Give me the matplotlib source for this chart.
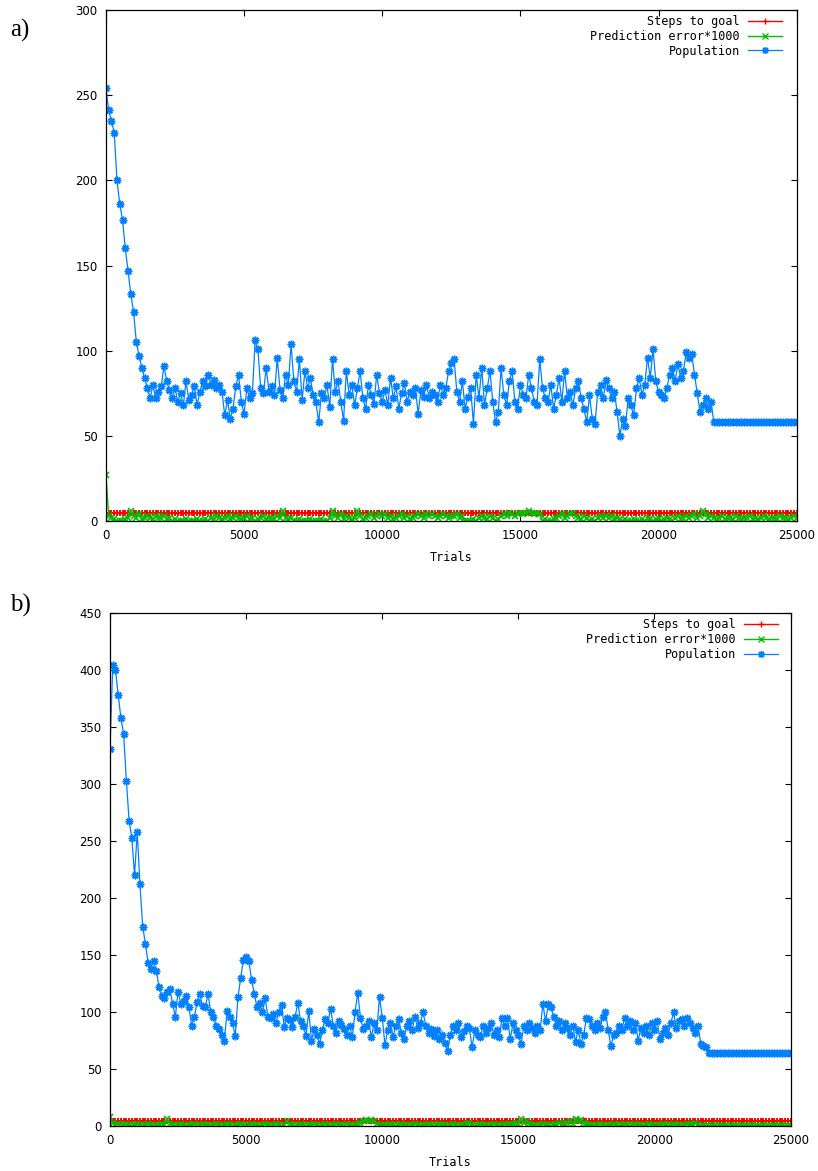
import numpy as np
import matplotlib.pyplot as plt

# ---- data (one sample every 100 trials) ----
trials = np.arange(0, 25001, 100)

# panel a) population
pop_a = [254, 241, 235, 228, 200, 186, 177, 160, 147, 133, 123, 105, 97, 90, 84, 78, 72,
         80, 72, 76, 79, 91, 82,
         77, 72, 78, 70,
         75, 68, 82, 71, 74, 79, 68, 76,
         82, 79, 86, 80, 83, 78, 80, 76,
         62, 71, 60, 66, 79, 86,
         70, 63, 78, 72, 75,
         106, 101,
         78, 75, 90, 76, 79, 74,
         96, 77, 72, 86, 80, 104,
         82, 76, 95, 71, 88, 78, 84, 74,
         70, 58, 75,
         72, 80, 67, 95, 76, 82, 70, 59, 88, 74, 80, 68,
         78, 88, 72, 66, 80, 74, 69, 86, 75, 70,
         77, 68, 84, 72, 79, 66, 75, 81, 70,
         76, 74, 78, 63, 77, 73, 80, 72, 76, 74,
         70, 80, 74, 78, 88, 93, 95,
         76, 70, 82, 66, 73, 78, 57,
         86, 72, 90, 68, 78, 88, 70, 58, 64, 90,
         74, 68, 82, 88, 70, 66, 80, 74, 72, 86, 78, 70,
         68, 95, 78, 72, 70,
         80, 66, 74, 84, 70, 88, 72, 76, 68, 78, 82,
         72, 66, 58, 74, 60, 57, 76,
         80, 72, 83, 78, 72, 76,
         64, 50, 60, 56,
         72, 68, 62, 78, 84, 74, 80,
         96, 84, 101, 82,
         76, 74, 72, 78,
         86, 90, 82, 92, 84, 88,
         99, 96, 98, 86,
         75, 64, 68, 72, 66, 70] + [58] * 31

pred_a = [27, 3, 2, 1, 0, 0, 0, 1, 2, 6,
          3, 2, 4, 1, 2, 3, 2, 1, 3, 2,
          2, 3, 1, 2, 0, 1, 0, 0, 0, 1,
          0, 0, 0, 1, 0, 0, 1, 0, 2, 1,
          3, 2, 1, 2, 3, 1, 2, 3, 2, 1,
          2, 3, 1, 2, 0, 1, 2, 3, 1, 2,
          2, 1, 3, 2, 6, 2, 1, 2, 0, 0,
          1, 0, 0, 0, 1, 0, 0, 0, 1, 0,
          0, 2, 6, 3, 2, 4, 1, 3, 2, 1,
          2, 6, 3, 1, 2, 3, 4, 2, 3, 4,
          3, 4, 2, 3, 1, 2, 3, 4, 2, 3,
          1, 2, 3, 4, 3, 2, 4, 3, 4, 3,
          2, 3, 4, 3, 2, 3, 3, 4, 2, 3,
          0, 0, 0, 1, 0, 2, 3, 2, 1, 3,
          2, 0, 1, 3, 4, 3, 5, 4, 3, 4,
          5, 4, 5, 6, 5, 4, 5, 4, 0, 1,
          0, 0, 1, 2, 3, 4, 2, 3, 4, 5,
          3, 2, 1, 3, 2, 0, 1, 0, 2, 3,
          2, 3, 2, 3, 1, 2, 1, 0, 1, 0,
          0, 1, 0, 0, 1, 0, 2, 1, 0, 1,
          2, 0, 1, 2, 1, 0, 2, 3, 1, 2,
          3, 2, 3, 4, 2, 3, 6, 4, 2, 3,
          2, 1, 2, 3, 1, 2, 2, 1, 3, 2,
          1, 2, 2, 3, 1, 2, 1, 2, 3, 2,
          1, 2, 2, 1, 3, 2, 2, 1, 2, 3,
          2]

steps_a = [4.5] * 251

# panel b) population
pop_b = [331, 404, 400, 378, 358, 344, 303, 268, 253, 220,
         258, 212, 175, 160, 143, 138, 145, 136, 122, 114,
         112, 118, 120, 107, 96, 118, 107, 110, 114, 104,
         88, 96, 109, 116, 105, 104, 116, 100, 96, 88,
         85, 80, 75, 101, 96, 90, 79, 113, 130, 146,
         148, 145, 128, 116, 104, 108, 100, 112, 96, 95,
         98, 90, 100, 106, 87, 95, 93, 87, 96, 108,
         92, 88, 79, 101, 75, 85, 80, 72, 84, 94,
         90, 103, 88, 82, 92, 89, 85, 80, 88, 78,
         100, 117, 95, 85, 88, 92, 78, 90, 84, 113,
         95, 71, 84, 90, 78, 88, 94, 82, 76, 88,
         92, 84, 96, 86, 90, 100, 88, 82, 85, 79,
         84, 76, 80, 73, 66, 80, 88, 84, 90, 78,
         83, 88, 86, 69, 84, 80, 78, 88, 82, 86,
         90, 80, 84, 78, 95, 88, 95, 76, 90, 84,
         80, 72, 88, 84, 90, 86, 82, 88, 84, 107,
         92, 107, 104, 96, 88, 92, 84, 90, 86, 80,
         88, 74, 84, 72, 80, 95, 94, 88, 84, 90,
         86, 96, 100, 84, 70, 80, 82, 88, 84, 95,
         88, 92, 84, 90, 75, 86, 82, 88, 80, 90,
         84, 92, 76, 82, 86, 80, 90, 100, 86, 92,
         94, 88, 95, 90, 86, 82, 88, 72, 70, 69] + [64] * 31

pred_b = [8, 3, 1, 2, 0, 1, 2, 1, 0, 1,
          2, 1, 0, 1, 2, 1, 0, 1, 1, 2,
          1, 6, 2, 1, 0, 1, 2, 1, 0, 1,
          1, 2, 0, 1, 2, 1, 1, 0, 1, 2,
          1, 0, 1, 2, 1, 0, 1, 1, 2, 1,
          0, 1, 2, 1, 1, 0, 1, 2, 1, 0,
          1, 2, 1, 0, 1, 4, 2, 1, 0, 1,
          2, 1, 0, 1, 1, 2, 1, 0, 1, 2,
          1, 0, 1, 2, 1, 1, 0, 2, 1, 0,
          1, 2, 3, 4, 5, 4, 5, 4, 2, 1,
          0, 1, 1, 2, 1, 0, 1, 2, 1, 1,
          0, 1, 2, 1, 0, 1, 1, 2, 1, 0,
          1, 2, 1, 1, 0, 1, 2, 1, 0, 1,
          1, 2, 3, 1, 0, 1, 2, 1, 1, 0,
          1, 2, 1, 0, 1, 2, 1, 1, 2, 3,
          2, 6, 3, 4, 2, 1, 1, 0, 1, 2,
          1, 1, 0, 1, 2, 3, 1, 2, 3, 4,
          2, 6, 4, 5, 3, 2, 1, 1, 0, 1,
          2, 1, 0, 1, 1, 2, 1, 0, 1, 2,
          1, 0, 1, 2, 1, 1, 0, 1, 2, 1,
          0, 1, 1, 2, 1, 0, 1, 2, 1, 1,
          0, 1, 2, 1, 1, 3, 1, 0, 1, 0,
          0, 1, 0, 0, 1, 0, 0, 0, 1, 0,
          0, 0, 1, 0, 0, 0, 1, 0, 0, 0,
          1, 0, 0, 0, 1, 0, 0, 1, 0, 0,
          0]

steps_b = [4.5] * 251

RED, GREEN, BLUE = '#ff0000', '#00c000', '#0080ff'
ASTER = (8, 2, 0)   # gnuplot-style '*' (plus and cross together)


def panel(ax, pop, pred, steps, ymax, leg_anchor):
    ax.plot(trials, steps, color=RED, lw=1.0, marker='+', ms=5, mew=1.4,
            label='Steps to goal')
    ax.plot(trials, pred, color=GREEN, lw=1.0, marker='x', ms=5, mew=1.2,
            label='Prediction error*1000')
    ax.plot(trials, pop, color=BLUE, lw=0.9, marker=ASTER, ms=5.5, mew=1.1,
            label='Population')
    ax.set_xlim(0, 25000)
    ax.set_ylim(0, ymax)
    ax.set_xticks(range(0, 25001, 5000))
    ax.set_yticks(range(0, ymax + 1, 50))
    ax.tick_params(direction='in', top=True, right=True, length=4, width=0.8,
                   labelsize=8.5, pad=6)
    for lab in ax.get_xticklabels() + ax.get_yticklabels():
        lab.set_fontfamily('DejaVu Sans')
    for s in ax.spines.values():
        s.set_linewidth(0.9)
    ax.set_xlabel('Trials', fontfamily='DejaVu Sans Mono', fontsize=8.5, labelpad=6)
    leg = ax.legend(loc='upper right', bbox_to_anchor=leg_anchor, frameon=False,
                    markerfirst=False, numpoints=1, handlelength=2.9, handletextpad=0.7,
                    labelspacing=0.15, borderpad=0, borderaxespad=0,
                    prop={'family': 'DejaVu Sans Mono', 'size': 8.5})
    for h in leg.get_lines():
        h.set_markersize(5)
        h.set_markeredgewidth(1.0)


fig = plt.figure(figsize=(8.18, 11.71), dpi=100)
ax_a = fig.add_axes([0.1295, 0.555, 0.8445, 0.4365])
ax_b = fig.add_axes([0.1345, 0.0384, 0.832, 0.4381])

panel(ax_a, pop_a, pred_a, steps_a, 300, (0.979, 0.99))
panel(ax_b, pop_b, pred_b, steps_b, 450, (0.982, 0.99))

fig.text(0.012, 0.974, 'a)', fontsize=18, fontfamily='Liberation Serif', va='center')
fig.text(0.012, 0.483, 'b)', fontsize=18, fontfamily='Liberation Serif', va='center')

fig.savefig('out.png', dpi=100)
